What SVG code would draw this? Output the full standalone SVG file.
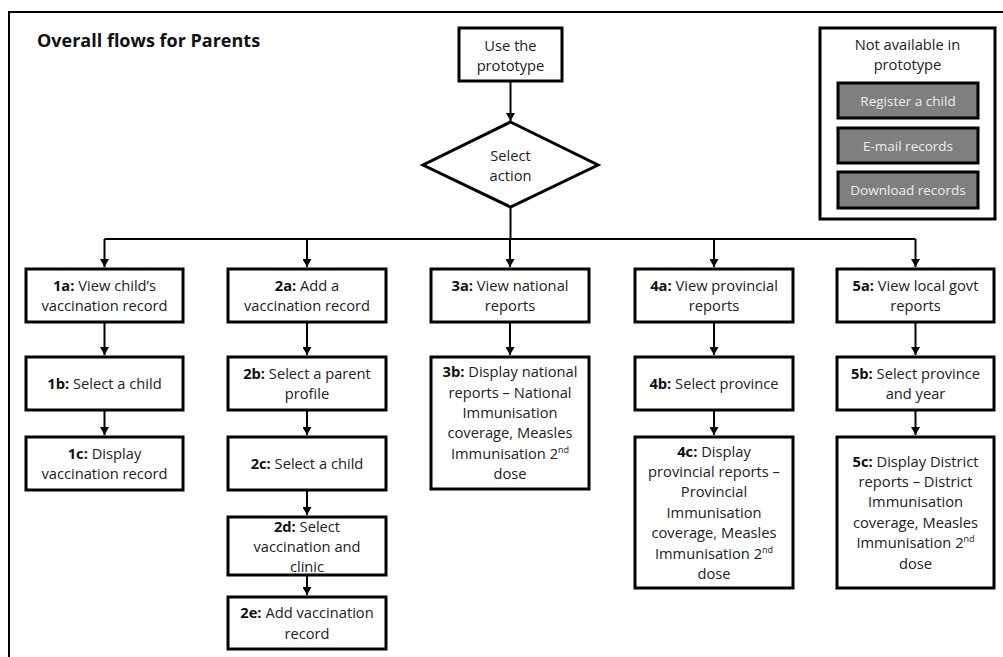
<svg xmlns="http://www.w3.org/2000/svg" width="1003" height="657" viewBox="0 0 1003 657">
<style>
.box{fill:#fff;stroke:#000;stroke-width:3}
.btn{fill:#7f7f7f;stroke:#000;stroke-width:3}
.t{font-family:"Open Sans","Liberation Sans",sans-serif;font-size:14.7px;fill:#222;text-anchor:middle}
.b{font-weight:bold;fill:#111}
.bt{font-family:"Open Sans","Liberation Sans",sans-serif;font-size:13.5px;fill:#eee;text-anchor:middle}
.c{fill:none;stroke:#000;stroke-width:2}
.sup{font-size:9px}
</style>
<defs>
<marker id="ah" markerUnits="userSpaceOnUse" markerWidth="9" markerHeight="9" refX="8" refY="4.5" orient="auto">
<path d="M0,0 L8,4.5 L0,9 z" fill="#000"/>
</marker>
</defs>
<rect width="1003" height="657" fill="#fff"/>
<path d="M9,657 V12 H1003" fill="none" stroke="#000" stroke-width="2"/>
<text x="37" y="47" font-family="'Open Sans','Liberation Sans',sans-serif" font-size="18" font-weight="bold" fill="#111">Overall flows for Parents</text>

<g id="connectors">
<path class="c" d="M510.5,82 V121" marker-end="url(#ah)"/>
<path class="c" d="M510.5,207 V239 M104.5,239 H915.5"/>
<path class="c" d="M104.5,239 V267" marker-end="url(#ah)"/>
<path class="c" d="M307,239 V267" marker-end="url(#ah)"/>
<path class="c" d="M510,239 V267" marker-end="url(#ah)"/>
<path class="c" d="M714,239 V267" marker-end="url(#ah)"/>
<path class="c" d="M915.5,239 V267" marker-end="url(#ah)"/>
<path class="c" d="M104.5,323 V355" marker-end="url(#ah)"/>
<path class="c" d="M104.5,411 V435" marker-end="url(#ah)"/>
<path class="c" d="M307,323 V355" marker-end="url(#ah)"/>
<path class="c" d="M307,411 V435" marker-end="url(#ah)"/>
<path class="c" d="M307,491 V515" marker-end="url(#ah)"/>
<path class="c" d="M307,576 V595" marker-end="url(#ah)"/>
<path class="c" d="M510,323 V355" marker-end="url(#ah)"/>
<path class="c" d="M714,323 V355" marker-end="url(#ah)"/>
<path class="c" d="M714,411 V435" marker-end="url(#ah)"/>
<path class="c" d="M915.5,323 V355" marker-end="url(#ah)"/>
<path class="c" d="M915.5,411 V435" marker-end="url(#ah)"/>
</g>

<g id="start">
<rect class="box" x="459" y="28" width="103" height="53"/>
<text class="t" x="510.5" y="51">Use the</text>
<text class="t" x="510.5" y="71">prototype</text>
</g>
<g id="select">
<polygon class="box" points="510.5,122 598,165 510.5,207 423,165"/>
<text class="t" x="510.5" y="161">Select</text>
<text class="t" x="510.5" y="181">action</text>
</g>

<g id="legend">
<rect class="box" x="820" y="28" width="175" height="191"/>
<text class="t" x="907.5" y="50">Not available in</text>
<text class="t" x="907.5" y="70">prototype</text>
<rect class="btn" x="838" y="83" width="140" height="35"/>
<text class="bt" x="908" y="105.5">Register a child</text>
<rect class="btn" x="838" y="128" width="140" height="35"/>
<text class="bt" x="908" y="150.5">E-mail records</text>
<rect class="btn" x="838" y="172" width="140" height="36"/>
<text class="bt" x="908" y="195">Download records</text>
</g>

<g id="n1a">
<rect class="box" x="26" y="269" width="157" height="53"/>
<text class="t" x="104.5" y="290.5"><tspan class="b">1a:</tspan> View child’s</text>
<text class="t" x="104.5" y="311">vaccination record</text>
</g>
<g id="n1b">
<rect class="box" x="26" y="357" width="157" height="53"/>
<text class="t" x="104.5" y="388.5"><tspan class="b">1b:</tspan> Select a child</text>
</g>
<g id="n1c">
<rect class="box" x="26" y="437" width="157" height="53"/>
<text class="t" x="104.5" y="458.5"><tspan class="b">1c:</tspan> Display</text>
<text class="t" x="104.5" y="479">vaccination record</text>
</g>

<g id="n2a">
<rect class="box" x="228" y="269" width="158" height="53"/>
<text class="t" x="307" y="290.5"><tspan class="b">2a:</tspan> Add a</text>
<text class="t" x="307" y="311">vaccination record</text>
</g>
<g id="n2b">
<rect class="box" x="228" y="357" width="158" height="53"/>
<text class="t" x="307" y="378.5"><tspan class="b">2b:</tspan> Select a parent</text>
<text class="t" x="307" y="399">profile</text>
</g>
<g id="n2c">
<rect class="box" x="228" y="437" width="158" height="53"/>
<text class="t" x="307" y="468.5"><tspan class="b">2c:</tspan> Select a child</text>
</g>
<g id="n2d">
<rect class="box" x="228" y="517" width="158" height="58"/>
<text class="t" x="307" y="532"><tspan class="b">2d:</tspan> Select</text>
<text class="t" x="307" y="552">vaccination and</text>
<text class="t" x="307" y="572">clinic</text>
</g>
<g id="n2e">
<rect class="box" x="228" y="597" width="158" height="52"/>
<text class="t" x="307" y="618"><tspan class="b">2e:</tspan> Add vaccination</text>
<text class="t" x="307" y="638.5">record</text>
</g>

<g id="n3a">
<rect class="box" x="431" y="269" width="158" height="53"/>
<text class="t" x="510" y="290.5"><tspan class="b">3a:</tspan> View national</text>
<text class="t" x="510" y="311">reports</text>
</g>
<g id="n3b">
<rect class="box" x="431" y="357" width="158" height="132"/>
<text class="t" x="510" y="377"><tspan class="b">3b:</tspan> Display national</text>
<text class="t" x="510" y="397.5">reports – National</text>
<text class="t" x="510" y="418">Immunisation</text>
<text class="t" x="510" y="438">coverage, Measles</text>
<text class="t" x="510" y="458.5">Immunisation 2<tspan class="sup" dy="-6">nd</tspan></text>
<text class="t" x="510" y="479">dose</text>
</g>

<g id="n4a">
<rect class="box" x="635" y="269" width="158" height="53"/>
<text class="t" x="714" y="290.5"><tspan class="b">4a:</tspan> View provincial</text>
<text class="t" x="714" y="311">reports</text>
</g>
<g id="n4b">
<rect class="box" x="635" y="357" width="158" height="53"/>
<text class="t" x="714" y="388.5"><tspan class="b">4b:</tspan> Select province</text>
</g>
<g id="n4c">
<rect class="box" x="635" y="437" width="158" height="151"/>
<text class="t" x="714" y="456.5"><tspan class="b">4c:</tspan> Display</text>
<text class="t" x="714" y="477">provincial reports –</text>
<text class="t" x="714" y="497">Provincial</text>
<text class="t" x="714" y="517.5">Immunisation</text>
<text class="t" x="714" y="538">coverage, Measles</text>
<text class="t" x="714" y="558.5">Immunisation 2<tspan class="sup" dy="-6">nd</tspan></text>
<text class="t" x="714" y="579">dose</text>
</g>

<g id="n5a">
<rect class="box" x="837" y="269" width="157" height="53"/>
<text class="t" x="915.5" y="290.5"><tspan class="b">5a:</tspan> View local govt</text>
<text class="t" x="915.5" y="311">reports</text>
</g>
<g id="n5b">
<rect class="box" x="837" y="357" width="157" height="53"/>
<text class="t" x="915.5" y="378.5"><tspan class="b">5b:</tspan> Select province</text>
<text class="t" x="915.5" y="399">and year</text>
</g>
<g id="n5c">
<rect class="box" x="837" y="437" width="157" height="151"/>
<text class="t" x="915.5" y="466.5"><tspan class="b">5c:</tspan> Display District</text>
<text class="t" x="915.5" y="487">reports – District</text>
<text class="t" x="915.5" y="507">Immunisation</text>
<text class="t" x="915.5" y="527.5">coverage, Measles</text>
<text class="t" x="915.5" y="548">Immunisation 2<tspan class="sup" dy="-6">nd</tspan></text>
<text class="t" x="915.5" y="568.5">dose</text>
</g>
</svg>
